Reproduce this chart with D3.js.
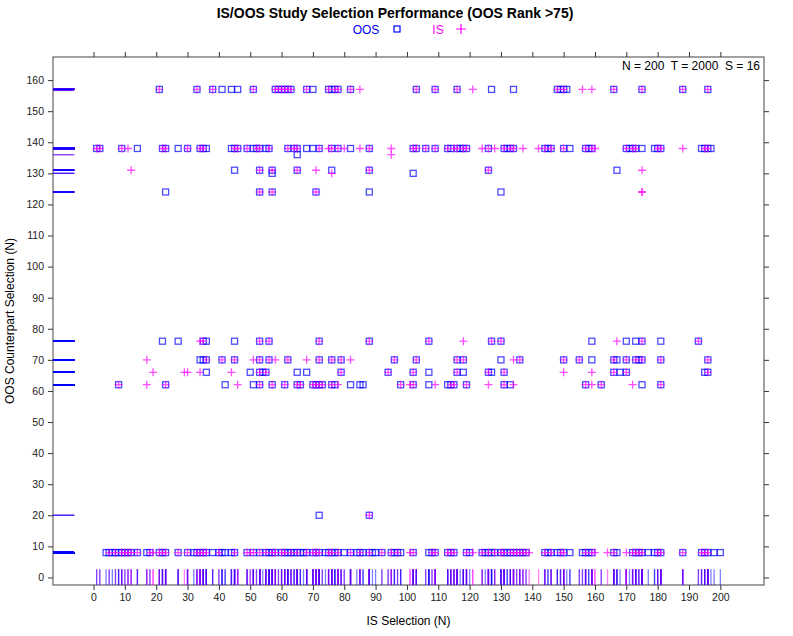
<!DOCTYPE html>
<html>
<head>
<meta charset="utf-8">
<script src="https://cdn.jsdelivr.net/npm/d3@7"></script>
<style>
  body { margin: 0; background: #fff; }
  text { font-family: "Liberation Sans", Arial, sans-serif; }
</style>
</head>
<body>
<div id="chart"></div>
<script>
'use strict'

// OOS counterpart levels (y) and the IS selections (x) that land on each level
const yLevels = [157, 138, 136, 131, 130, 124, 76, 70, 66, 62, 20, 8]

const oosRows = [
    [21, 33, 38, 41, 44, 46, 51, 58, 59, 60, 61, 62, 63, 68, 70, 75, 76, 77, 78, 82, 103, 109, 116, 127, 134, 148, 149, 150, 151, 166, 175, 188, 196],
    [1, 2, 9, 14, 22, 23, 27, 30, 34, 35, 36, 44, 45, 46, 49, 51, 52, 53, 55, 56, 62, 64, 65, 68, 70, 72, 76, 78, 82, 88, 102, 103, 106, 109, 113, 114, 116, 117, 118, 119, 126, 131, 132, 133, 134, 144, 145, 146, 150, 152, 157, 158, 159, 170, 171, 172, 173, 175, 179, 180, 181, 194, 195, 196, 197],
    [65],
    [45, 53, 57, 65, 76, 88, 126, 167],
    [57, 102],
    [23, 53, 57, 71, 88, 130],
    [22, 27, 35, 36, 45, 53, 56, 72, 88, 107, 127, 130, 159, 170, 173, 175, 181, 193],
    [34, 35, 36, 41, 45, 53, 56, 62, 72, 76, 79, 96, 103, 116, 118, 130, 136, 150, 155, 159, 166, 167, 170, 173, 174, 175, 181, 196],
    [36, 50, 53, 54, 55, 65, 68, 79, 94, 102, 107, 116, 118, 126, 127, 131, 166, 168, 170, 195, 196],
    [8, 23, 42, 51, 53, 57, 61, 65, 66, 70, 71, 72, 73, 76, 77, 82, 85, 86, 98, 102, 107, 113, 114, 115, 119, 131, 133, 157, 162, 175, 181],
    [72, 88],
    [4, 5, 6, 7, 8, 9, 10, 11, 12, 14, 17, 18, 21, 22, 23, 27, 30, 32, 33, 34, 35, 36, 38, 40, 41, 42, 44, 45, 49, 51, 53, 55, 56, 57, 58, 60, 61, 62, 63, 64, 65, 66, 67, 68, 70, 71, 72, 74, 75, 76, 77, 78, 80, 82, 84, 85, 86, 88, 89, 90, 92, 95, 96, 97, 98,
     102, 107, 108, 109, 113, 114, 115, 119, 120, 124, 125, 126, 127, 128, 130, 131, 132, 133, 134, 135, 136, 137, 138, 144, 145, 146, 148, 149, 150, 152, 156, 157, 158, 159, 166, 167, 172, 173, 174, 175, 177, 179, 180, 181, 188, 194, 195, 196, 198, 200]
]

const isRows = [
    [21, 33, 38, 51, 58, 59, 60, 61, 62, 63, 68, 75, 77, 78, 82, 85, 103, 109, 116, 121, 148, 150, 156, 159, 166, 175, 188, 196],
    [1, 2, 9, 11, 22, 23, 30, 34, 35, 45, 46, 49, 52, 53, 56, 62, 64, 65, 72, 75, 76, 78, 80, 85, 88, 95, 102, 103, 106, 109, 113, 115, 116, 118, 119, 124, 126, 128, 131, 133, 134, 137, 142, 144, 146, 150, 157, 159, 160, 170, 172, 173, 180, 181, 188, 195, 196],
    [95],
    [12, 53, 57, 65, 71, 88, 126, 175],
    [76],
    [53, 57, 71, 175, 175],
    [34, 35, 53, 56, 72, 88, 107, 118, 127, 130, 167, 175, 193],
    [17, 36, 41, 45, 51, 53, 56, 58, 62, 68, 72, 76, 79, 82, 96, 103, 116, 118, 134, 136, 150, 155, 166, 170, 173, 175, 181, 196],
    [19, 29, 30, 34, 44, 53, 55, 79, 94, 102, 116, 126, 131, 150, 159, 166, 170, 196],
    [8, 17, 23, 46, 53, 57, 61, 65, 66, 70, 71, 72, 73, 76, 78, 98, 101, 102, 109, 114, 115, 119, 126, 131, 134, 157, 159, 162, 172, 181],
    [88],
    [5, 7, 9, 10, 11, 12, 14, 18, 19, 21, 22, 23, 27, 30, 33, 34, 35, 36, 40, 45, 49, 50, 51, 53, 55, 57, 58, 60, 61, 63, 65, 68, 70, 71, 72, 75, 76, 78, 82, 85, 88, 92, 95, 97, 101,
     102, 108, 109, 113, 114, 115, 119, 121, 124, 126, 128, 130, 131, 133, 134, 135, 136, 137, 138, 139, 144, 146, 149, 150, 157, 159, 160, 164, 166, 170, 172, 173, 174, 175, 180, 181, 188, 194, 195, 196]
]

const xTicks = d3.range(0, 201, 10)
const yTicks = d3.range(0, 161, 10)
const seriesNames = ['OOS', 'IS']
const seriesColors = ['#0000ff', '#ff00ff']

const width = 793,
    height = 636,
    panel = {left: 53, right: 764, top: 57, bottom: 585}

const toPoints = (rows, s) => rows.flatMap((xs, i) => xs.map(x => ({x: x, y: yLevels[i], s: s})))
const oos = toPoints(oosRows, 0),
    is = toPoints(isRows, 1)

const svg = d3.select('#chart')
    .append('svg')
    .attr('width', width)
    .attr('height', height)

// lattice style padding: 7% of the data range on each side
const xExt = d3.extent(oos.concat(is), d => d.x),
    yExt = d3.extent(oos.concat(is), d => d.y)
const xPad = (xExt[1] - xExt[0]) * 0.07,
    yPad = (yExt[1] - yExt[0]) * 0.07

const x = d3.scaleLinear()
    .domain([xExt[0] - xPad, xExt[1] + xPad])
    .range([panel.left, panel.right])
const y = d3.scaleLinear()
    .domain([yExt[0] - yPad, yExt[1] + yPad])
    .range([panel.bottom, panel.top])

// axes
const bottomAxis = svg.append('g')
    .attr('transform', `translate(0,${panel.bottom})`)
    .call(d3.axisBottom(x).tickValues(xTicks).tickSize(5).tickPadding(4))
const topAxis = svg.append('g')
    .attr('transform', `translate(0,${panel.top})`)
    .call(d3.axisTop(x).tickValues(xTicks).tickSize(5).tickFormat(''))
const leftAxis = svg.append('g')
    .attr('transform', `translate(${panel.left},0)`)
    .call(d3.axisLeft(y).tickValues(yTicks).tickSize(5).tickPadding(4))
const rightAxis = svg.append('g')
    .attr('transform', `translate(${panel.right},0)`)
    .call(d3.axisRight(y).tickValues(yTicks).tickSize(5).tickFormat(''))

;[bottomAxis, topAxis, leftAxis, rightAxis].forEach(g => {
    g.select('.domain').remove()
    g.selectAll('line').attr('stroke', '#333')
    g.selectAll('text')
        .style('font-family', '"Liberation Sans", Arial, sans-serif')
        .style('font-size', '10.5px')
        .attr('fill', '#222')
})

svg.append('rect')
    .attr('x', panel.left)
    .attr('y', panel.top)
    .attr('width', panel.right - panel.left)
    .attr('height', panel.bottom - panel.top)
    .attr('fill', 'none')
    .attr('stroke', '#444')
    .attr('stroke-width', 1)

const plot = svg.append('g')

// rugs: interleave the two groups so overlapping ticks blend to purple
const xRug = (panel.right - panel.left) * 0.03,
    yRug = (panel.bottom - panel.top) * 0.03
const rugs = d3.merge(d3.range(Math.max(oos.length, is.length))
    .map(i => [oos[i], is[i]].filter(d => d)))

plot.append('g')
    .selectAll('line')
    .data(rugs)
    .enter()
    .append('line')
    .attr('x1', d => x(d.x))
    .attr('x2', d => x(d.x))
    .attr('y1', panel.bottom)
    .attr('y2', panel.bottom - yRug)
    .attr('stroke', d => seriesColors[d.s])
    .attr('stroke-opacity', 0.5)
    .attr('stroke-width', 1.3)

plot.append('g')
    .selectAll('line')
    .data(rugs)
    .enter()
    .append('line')
    .attr('x1', panel.left)
    .attr('x2', panel.left + xRug)
    .attr('y1', d => y(d.y))
    .attr('y2', d => y(d.y))
    .attr('stroke', d => seriesColors[d.s])
    .attr('stroke-opacity', 0.5)
    .attr('stroke-width', 1.3)

// points
const sq = 3, pl = 4

plot.append('g')
    .selectAll('rect')
    .data(oos)
    .enter()
    .append('rect')
    .attr('x', d => x(d.x) - sq)
    .attr('y', d => y(d.y) - sq)
    .attr('width', sq * 2)
    .attr('height', sq * 2)
    .attr('fill', 'none')
    .attr('stroke', seriesColors[0])
    .attr('stroke-opacity', 0.7)
    .attr('stroke-width', 1.3)

plot.append('g')
    .selectAll('path')
    .data(is)
    .enter()
    .append('path')
    .attr('d', d => `M${x(d.x) - pl},${y(d.y)}h${pl * 2}M${x(d.x)},${y(d.y) - pl}v${pl * 2}`)
    .attr('stroke', seriesColors[1])
    .attr('stroke-opacity', 0.7)
    .attr('stroke-width', 1.3)

// titles
svg.append('text')
    .attr('x', 395)
    .attr('y', 18)
    .attr('text-anchor', 'middle')
    .style('font-size', '14px')
    .style('font-weight', 'bold')
    .text('IS/OOS Study Selection Performance (OOS Rank >75)')

const legend = svg.append('g')
legend.append('text')
    .attr('x', 366).attr('y', 34)
    .attr('text-anchor', 'middle')
    .attr('fill', seriesColors[0])
    .style('font-size', '12px')
    .text(seriesNames[0])
legend.append('rect')
    .attr('x', 394).attr('y', 26)
    .attr('width', 6).attr('height', 6)
    .attr('fill', 'none')
    .attr('stroke', seriesColors[0])
    .attr('stroke-width', 1.2)
legend.append('text')
    .attr('x', 438).attr('y', 34)
    .attr('text-anchor', 'middle')
    .attr('fill', seriesColors[1])
    .style('font-size', '12px')
    .text(seriesNames[1])
legend.append('path')
    .attr('d', 'M456,29h10M461,24v10')
    .attr('stroke', seriesColors[1])
    .attr('stroke-width', 1.2)

svg.append('text')
    .attr('x', 760)
    .attr('y', 70)
    .attr('text-anchor', 'end')
    .style('font-size', '12px')
    .style('white-space', 'pre')
    .text('N = 200  T = 2000  S = 16')

svg.append('text')
    .attr('x', (panel.left + panel.right) / 2)
    .attr('y', 625)
    .attr('text-anchor', 'middle')
    .style('font-size', '12px')
    .text('IS Selection (N)')

svg.append('text')
    .attr('transform', `translate(14,${(panel.top + panel.bottom) / 2}) rotate(-90)`)
    .attr('text-anchor', 'middle')
    .style('font-size', '12px')
    .text('OOS Counterpart Selection (N)')
</script>
</body>
</html>
